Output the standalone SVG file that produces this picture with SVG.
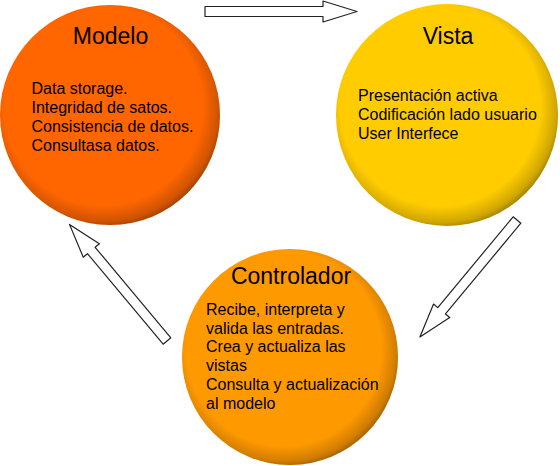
<svg xmlns="http://www.w3.org/2000/svg" width="560" height="466" viewBox="0 0 560 466">
<defs>
<radialGradient id="rim" cx="0.47" cy="0.46" r="0.55">
<stop offset="0.82" stop-color="#000" stop-opacity="0"/>
<stop offset="0.95" stop-color="#000" stop-opacity="0.18"/>
<stop offset="1" stop-color="#000" stop-opacity="0.35"/>
</radialGradient>
<radialGradient id="hl" cx="0.4" cy="0.35" r="0.7">
<stop offset="0" stop-color="#fff" stop-opacity="0.06"/>
<stop offset="1" stop-color="#fff" stop-opacity="0"/>
</radialGradient>
<path id="arrow" d="M0,-5 L118,-5 L118,-10.5 L152,0 L118,10.5 L118,5 L0,5 Z"/>
</defs>
<style>
.t{font-family:"Liberation Sans",Arial,sans-serif;font-size:23px;fill:#000;text-anchor:middle}
.b{font-family:"Liberation Sans",Arial,sans-serif;font-size:16px;fill:#000}
.arr{fill:#fff;stroke:#222;stroke-width:1.2;stroke-linejoin:round}
</style>
<rect width="560" height="466" fill="#fff"/>
<g id="connectors">
<use href="#arrow" class="arr" transform="translate(205,11.5)"/>
<use href="#arrow" class="arr" transform="translate(517,220) rotate(129.7)"/>
<use href="#arrow" class="arr" transform="translate(167,341) rotate(-129.9)"/>
</g>
<g id="modelo">
<circle cx="110" cy="115" r="110" fill="#FF6600"/>
<circle cx="110" cy="115" r="110" fill="url(#rim)"/>
<text class="t" x="110.5" y="44">Modelo</text>
<text class="b" x="31.5" y="94">Data storage.</text>
<text class="b" x="31.5" y="113">Integridad de satos.</text>
<text class="b" x="31.5" y="132">Consistencia de datos.</text>
<text class="b" x="31.5" y="151">Consultasa datos.</text>
</g>
<g id="vista">
<circle cx="447" cy="115" r="111" fill="#FFCC00"/>
<circle cx="447" cy="115" r="111" fill="url(#rim)"/>
<text class="t" x="448" y="44">Vista</text>
<text class="b" x="358" y="100.5">Presentación activa</text>
<text class="b" x="358" y="119.5">Codificación lado usuario</text>
<text class="b" x="358" y="138.5">User Interfece</text>
</g>
<g id="controlador">
<circle cx="290" cy="357" r="108" fill="#FF9900"/>
<circle cx="290" cy="357" r="108" fill="url(#rim)"/>
<text class="t" x="291" y="283.5">Controlador</text>
<text class="b" x="206" y="315">Recibe, interpreta y</text>
<text class="b" x="206" y="333.5">valida las entradas.</text>
<text class="b" x="206" y="352">Crea y actualiza las</text>
<text class="b" x="206" y="370.5">vistas</text>
<text class="b" x="206" y="389.5">Consulta y actualización</text>
<text class="b" x="206" y="408.5">al modelo</text>
</g>
</svg>
